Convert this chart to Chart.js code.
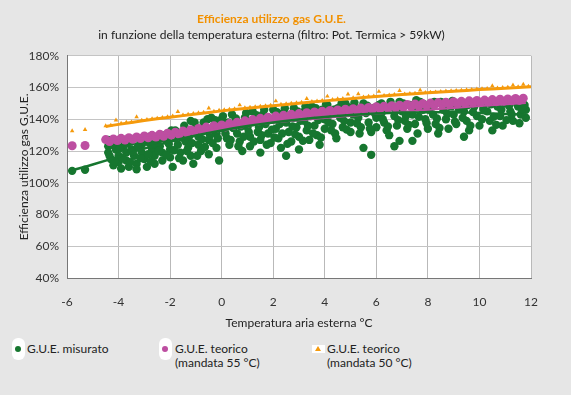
<!DOCTYPE html>
<html lang="it">
<head>
<meta charset="utf-8">
<title>Efficienza utilizzo gas G.U.E.</title>
<script src="https://cdn.jsdelivr.net/npm/chart.js@4.4.1/dist/chart.umd.min.js"></script>
<style>
    body { margin: 0; background: #e6e6e6; font-family: Lato, "Open Sans", sans-serif; }
    #wrap { position: relative; width: 571px; height: 395px; overflow: hidden; }
    #chartBox { position: absolute; left: 0; top: 0; width: 571px; height: 335px; }
    .item { position: absolute; top: 342px; font-size: 12px; line-height: 14px; color: #222; }
    .box { position: absolute; background: #fff; }
    .dot { position: absolute; width: 6px; height: 6px; border-radius: 50%; }
    .tri { position: absolute; width: 0; height: 0; border-left: 3px solid transparent; border-right: 3px solid transparent; border-bottom: 5px solid #f59a0c; }
</style>
</head>
<body>
<div id="wrap">
    <div id="chartBox"><canvas id="gueChart"></canvas></div>

    <div class="box" style="left:12px; top:338px; width:13px; height:22px; border-radius:6px;"></div>
    <div class="dot" style="left:15px; top:346px; background:#16762f;"></div>
    <div class="item" style="left:27px;">G.U.E. misurato</div>

    <div class="box" style="left:159px; top:338px; width:13px; height:22px; border-radius:6px;"></div>
    <div class="dot" style="left:162px; top:346px; background:#bd4ea1;"></div>
    <div class="item" style="left:175px;">G.U.E. teorico<br>(mandata 55 °C)</div>

    <div class="box" style="left:312px; top:345px; width:13px; height:8px;"></div>
    <div class="tri" style="left:315px; top:346px;"></div>
    <div class="item" style="left:327px;">G.U.E. teorico<br>(mandata 50 °C)</div>
</div>

<script>
// G.U.E. misurato: [temperatura esterna, efficienza %]
const gueMisurato = [
    [-5.8,107.5],[-5.3,108.2],
    [-4.4,127],[-4.4,123],[-4.4,119],[-4.3,115],[-4.2,111],[-4.1,125],[-4.1,121],[-4.0,117],[-4.0,113],[-3.9,109],
    [-3.8,127],[-3.8,123],[-3.7,119],[-3.7,114],[-3.6,110],[-3.5,126],[-3.5,121],[-3.4,117],[-3.3,112],[-3.3,108.5],
    [-3.2,128],[-3.1,124],[-3.1,119],[-3.0,115],[-2.9,110],
    [-2.8,129],[-2.8,125],[-2.7,121],[-2.6,117],[-2.6,112],[-2.5,127],[-2.4,123],[-2.3,119],[-2.3,114],
    [-2.2,130],[-2.1,126],[-2.0,121],[-2.0,116],[-1.9,110],
    [-1.8,133],[-1.8,128],[-1.7,124],[-1.6,119],[-1.5,114],[-1.5,131],[-1.4,126],[-1.3,122],[-1.2,117],[-1.1,112],
    [-1.2,139],[-1.0,135],[-0.9,129],[-0.9,124],[-0.8,120],[-0.7,138],[-0.6,133],[-0.5,127],[-0.5,118],
    [-0.4,141],[-0.3,136],[-0.2,131],[-0.2,122],[-0.1,114],
    [0.0,140],[0.1,134],[0.2,128],[0.3,124],[0.4,143],[0.5,137],[0.6,131],[0.7,126],[0.8,120],[0.9,141],
    [1.0,135],[1.1,129],[1.1,123],
    [1.2,145],[1.3,139],[1.4,132],[1.5,127],[1.5,119],[1.6,143],[1.7,137],[1.8,131],[1.9,125],[2.0,146],[2.0,140],[2.1,134],
    [2.2,128],[2.3,122],[2.4,144],[2.5,138],[2.5,117],[2.6,132],[2.7,126],[2.8,147],[2.8,141],[2.9,135],[3.0,129],[3.0,121],
    [3.2,145],[3.2,139],[3.3,133],[3.4,127],[3.5,148],[3.6,142],[3.6,136],[3.7,130],[3.8,124],[3.9,146],[4.0,140],[4.0,134],
    [4.1,149],[4.2,143],[4.3,137],[4.4,131],[4.45,128],[4.5,147],[4.6,141],[4.7,135],[4.8,150],[4.9,144],[5.0,138],[5.0,132],
    [5.2,147],[5.3,141],[5.4,135],[5.5,122],[5.5,150],[5.6,144],[5.7,138],[5.8,117.6],[5.8,132],[5.9,147],[6.0,141],[6.0,135],
    [6.2,150],[6.2,144],[6.3,138],[6.4,133],[6.5,130],[6.6,148],[6.7,123],[6.7,142],[6.8,136],[6.9,126.4],[6.9,151],[7.0,145],
    [7.1,139],[7.2,134],[7.3,149],[7.4,126.4],[7.4,143],[7.5,137],[7.6,131],[7.7,151],[7.8,146],[7.9,140],[8.0,134],
    [8.1,149],[8.2,143],[8.3,137],[8.4,131],[8.5,151],[8.6,146],[8.7,140],[8.8,134],[8.9,148],[9.0,143],
    [9.1,137],[9.3,150],[9.4,129],[9.4,145],[9.5,139],[9.6,133],[9.8,148],[9.9,142],[10.0,136],
    [10.2,150],[10.3,145],[10.4,139],[10.5,133],[10.7,148],[10.8,142],[10.9,136],[11.0,150],[11.2,145],[11.3,139],
    [11.5,148],[11.6,143],[11.8,146],[11.8,141],
    [-4.35,117],[-4.25,124],[-4.15,113.5],[-3.95,121.5],[-3.85,115.5],[-3.65,125],[-3.55,113],[-3.45,119.5],
    [-3.25,123],[-3.15,115.5],[-2.95,126],[-2.85,118],[-2.75,113.5],[-2.65,124],[-2.45,120],[-2.35,128],
    [-2.15,117.5],[-2.05,124.5],[-1.95,133],[-1.85,120.5],[-1.75,131],[-1.65,115.5],[-1.55,128.5],[-1.45,136],
    [-1.35,120],[-1.25,129.5],[-1.15,125],[-1.05,138],[-0.95,117],[-0.85,132.5],[-0.75,127.5],[-0.65,122.5],
    [-0.55,140],[-0.45,130],[-0.35,125],[-0.25,139.5],[-0.15,128],[-0.05,136.5],[0.05,142],[0.15,131],
    [0.25,138],[0.35,127],[0.45,134.5],[0.55,140.5],[0.65,123],[0.75,135.5],[0.85,129],[0.95,144],
    [1.05,132],[1.15,138.5],[1.25,126],[1.35,142.5],[1.45,135],[1.55,130],[1.65,146],[1.75,124],
    [1.85,140],[1.95,133.5],[2.05,128.5],[2.15,144.5],[2.25,137],[2.35,131],[2.45,147],[2.55,124.5],
    [2.65,142],[2.75,135.5],[2.85,130.5],[2.95,145],[3.05,139],[3.15,126.5],[3.25,148],[3.35,136],
    [3.45,142],[3.55,131],[3.65,147],[3.75,139.5],[3.85,128.5],[3.95,143.5],[4.05,149.5],[4.15,138],
    [4.25,133],[4.35,146],[4.55,143],[4.65,150],[4.75,139],[4.85,133.5],[4.95,147.5],[5.1,143],
    [5.15,150.5],[5.25,137.5],[5.35,131],[5.45,145.5],[5.65,148.5],[5.75,134],[5.95,143.5],[6.1,149],
    [6.25,140],[6.35,146],[6.45,135.5],[6.55,151],[6.75,145.5],[6.85,139.5],[7.05,150],[7.15,142],
    [7.25,136.5],[7.45,147.5],[7.55,152],[7.65,141.5],[7.85,149.5],[7.95,137.5],[8.05,146],[8.25,151],
    [8.35,140.5],[8.45,134.5],[8.65,149],[8.75,143.5],[8.95,151.5],[9.05,138.5],[9.2,146.5],[9.35,141],
    [9.55,149],[9.65,136],[9.75,144.5],[9.95,150.5],[10.1,140],[10.15,146.5],[10.45,149.5],[10.55,141.5],
    [10.65,136.5],[10.85,146],[11.05,139.5],[11.15,148.5],[11.25,143],[11.45,150],[11.55,137.5],[11.65,146.5],
    [11.75,149]
];

// G.U.E. teorico (mandata 55 °C)
const gueTeorico55 = [
    [-5.8,123.3],[-5.3,123.5],
    [-4.5,127.2],[-4.35,126.0],[-4.2,127.6],[-4.05,126.6],[-3.9,128.0],[-3.75,126.9],[-3.6,128.4],[-3.45,127.4],
    [-3.3,128.9],[-3.15,127.9],[-3.0,129.5],[-2.85,128.3],[-2.7,129.9],[-2.55,128.8],[-2.4,130.6],[-2.25,129.3],
    [-2.1,131.2],[-1.95,130.0],[-1.8,131.9],[-1.65,130.6],[-1.5,132.6],[-1.35,131.4],[-1.2,133.4],[-1.05,132.1],
    [-0.9,134.2],[-0.75,132.9],[-0.6,135.1],[-0.45,133.8],[-0.3,136.0],[-0.15,134.6],[0.0,136.4],[0.15,135.2],
    [0.3,137.3],[0.45,136.1],[0.6,138.2],[0.75,137.0],[0.9,139.0],[1.05,137.8],[1.2,139.8],[1.35,138.6],
    [1.5,140.6],[1.65,139.3],[1.8,141.3],[1.95,140.0],[2.1,142.0],[2.25,140.6],[2.4,142.5],[2.55,141.3],
    [2.7,143.2],[2.85,141.8],[3.0,143.6],[3.15,142.4],[3.3,144.1],[3.45,142.9],[3.6,144.6],[3.75,143.4],
    [3.9,145.1],[4.05,143.8],[4.2,145.5],[4.35,144.3],[4.5,145.9],[4.65,144.7],[4.8,146.4],[4.95,145.1],
    [5.1,146.7],[5.25,145.5],[5.4,147.1],[5.55,145.9],[5.7,147.5],[5.85,146.3],[6.0,147.9],[6.15,146.6],
    [6.3,148.2],[6.45,147.0],[6.6,148.6],[6.75,147.4],[6.9,148.9],[7.05,147.7],[7.2,149.3],[7.35,148.0],
    [7.5,149.6],[7.65,148.3],[7.8,149.9],[7.95,148.7],[8.1,150.2],[8.25,148.9],[8.4,150.5],[8.55,149.2],
    [8.7,150.8],[8.85,149.5],[9.0,151.1],[9.15,149.8],[9.3,151.3],[9.45,150.1],[9.6,151.6],[9.75,150.3],
    [9.9,151.9],[10.05,150.6],[10.2,152.1],[10.35,150.9],[10.5,152.4],[10.65,151.1],[10.8,152.6],[10.95,151.4],
    [11.1,152.8],[11.25,151.6],[11.4,153.1],[11.55,151.9],[11.7,153.3]
];

// G.U.E. teorico (mandata 50 °C)
const gueTeorico50 = [
    [-5.8,132.7],[-5.3,133.5],
    [-4.5,135.8],[-4.3,136.2],[-4.1,139.5],[-3.9,137.4],[-3.7,138.0],[-3.5,138.3],[-3.3,141.5],[-3.1,139.4],
    [-2.9,139.8],[-2.7,140.3],[-2.5,140.6],[-2.3,141.0],[-2.1,141.6],[-1.9,142.0],[-1.7,144.8],[-1.5,142.7],
    [-1.3,143.1],[-1.1,143.6],[-0.9,144.0],[-0.7,144.3],[-0.5,147.0],[-0.3,145.0],[-0.1,145.6],[0.1,145.9],
    [0.3,146.2],[0.5,146.5],[0.7,149.0],[0.9,147.2],[1.1,147.5],[1.3,147.8],[1.5,148.1],[1.7,148.5],
    [1.9,148.8],[2.1,151.5],[2.3,149.4],[2.5,149.7],[2.7,150.0],[2.9,150.3],[3.1,150.6],[3.3,153.0],
    [3.5,151.1],[3.7,151.4],[3.9,151.8],[4.1,154.5],[4.3,152.4],[4.5,152.8],[4.7,153.0],[4.9,155.8],
    [5.1,153.5],[5.3,156.0],[5.5,154.0],[5.7,154.4],[5.9,154.6],[6.1,157.5],[6.3,155.0],[6.5,155.3],
    [6.7,155.6],[6.9,158.0],[7.1,155.9],[7.3,156.2],[7.5,156.4],[7.7,158.4],[7.9,156.8],[8.1,157.0],
    [8.3,157.2],[8.5,157.4],[8.7,157.7],[8.9,157.9],[9.1,158.1],[9.3,158.3],[9.5,158.5],[9.7,158.7],
    [9.9,159.0],[10.1,159.2],[10.3,159.4],[10.5,161.0],[10.7,159.7],[10.9,160.0],[11.1,160.2],[11.3,161.5],
    [11.5,160.5],[11.7,162.0],[11.9,160.8]
];

// linee di tendenza
const trendMisurato = [
    [-5.8,107.8],[-5,111.5],[-4,116.5],[-3,121.5],[-2,126],[-1,129.8],[0,133],[1,135.7],[2,138],[3,139.9],
    [4,141.5],[5,142.7],[6,143.6],[7,144.2],[8,144.5],[9,144.4],[10,144],[11,143.4],[11.8,142.8]
];
const trendTeorico55 = [
    [-4.5,125.5],[-2,130],[0,134],[2,137.8],[4,140.8],[6,143.5],[8,146],[10,148.3],[11.8,150.3]
];
const trendTeorico50 = [
    [-4.5,135.5],[-4,136.8],[-3,139.2],[-2,141.3],[-1,143.3],[0,145.3],[1,147],[2,148.6],[3,150.1],
    [4,151.6],[5,153],[6,154.4],[7,155.6],[8,156.7],[9,157.7],[10,158.7],[11,159.6],[12,160.5]
];

const GREEN = '#16762f';
const MAGENTA = '#bd4ea1';
const ORANGE = '#f59a0c';

function toPoints(arr) {
    return arr.map(p => ({ x: p[0], y: p[1] }));
}

// sfondo bianco dell'area del grafico
const plotBg = {
    id: 'plotBg',
    beforeDraw(chart) {
        const { ctx, chartArea: a } = chart;
        ctx.save();
        ctx.fillStyle = '#ffffff';
        ctx.fillRect(a.left, a.top, a.right - a.left, a.bottom - a.top);
        ctx.restore();
    }
};

Chart.defaults.font.family = 'Lato, "Open Sans", sans-serif';
Chart.defaults.font.size = 12;
Chart.defaults.color = '#333';

const ctx = document.getElementById('gueChart').getContext('2d');
new Chart(ctx, {
    type: 'scatter',
    data: {
        datasets: [
            { label: 'trend misurato', data: toPoints(trendMisurato), showLine: true, borderColor: GREEN, borderWidth: 2.5, pointRadius: 0, tension: 0.3 },
            { label: 'trend 55', data: toPoints(trendTeorico55), showLine: true, borderColor: MAGENTA, borderWidth: 2, pointRadius: 0, tension: 0.3 },
            { label: 'trend 50', data: toPoints(trendTeorico50), showLine: true, borderColor: ORANGE, borderWidth: 3, pointRadius: 0, tension: 0.3 },
            { label: 'G.U.E. teorico (mandata 50 °C)', data: toPoints(gueTeorico50), pointStyle: 'triangle', pointRadius: 2.6, backgroundColor: ORANGE, borderWidth: 0 },
            { label: 'G.U.E. teorico (mandata 55 °C)', data: toPoints(gueTeorico55), pointRadius: 4.5, backgroundColor: MAGENTA, borderWidth: 0 },
            { label: 'G.U.E. misurato', data: toPoints(gueMisurato), pointRadius: 4.2, backgroundColor: GREEN, borderWidth: 0 }
        ]
    },
    options: {
        responsive: true,
        maintainAspectRatio: false,
        animation: false,
        layout: { padding: { left: 12, right: 40, top: 4, bottom: 5 } },
        plugins: {
            legend: { display: false },
            tooltip: { enabled: false },
            title: {
                display: true,
                text: 'Efficienza utilizzo gas G.U.E.',
                color: '#f29100',
                font: { size: 12, weight: 'bold' },
                padding: { top: 8, bottom: 2 }
            },
            subtitle: {
                display: true,
                text: 'in funzione della temperatura esterna (filtro: Pot. Termica > 59kW)',
                color: '#222',
                font: { size: 12 },
                padding: { top: 0, bottom: 13 }
            }
        },
        scales: {
            x: {
                type: 'linear',
                min: -6,
                max: 12,
                ticks: { stepSize: 2, padding: 17, color: '#333' },
                grid: { color: '#b9b9b9', drawTicks: false },
                border: { color: '#777' },
                title: { display: true, text: 'Temperatura aria esterna °C', color: '#222', padding: { top: 4, bottom: 0 } },
                afterFit(scale) { scale.height = 52; }
            },
            y: {
                min: 40,
                max: 180,
                ticks: { stepSize: 20, padding: 8, color: '#333', callback: v => v + '%' },
                grid: { color: '#c4c4c4', drawTicks: false },
                border: { color: '#777' },
                title: { display: true, text: 'Efficienza utilizzo gas G.U.E.', color: '#222', padding: { top: 5, bottom: 0 } },
                afterFit(scale) { scale.width = 55; }
            }
        }
    },
    plugins: [plotBg]
});
</script>
</body>
</html>
